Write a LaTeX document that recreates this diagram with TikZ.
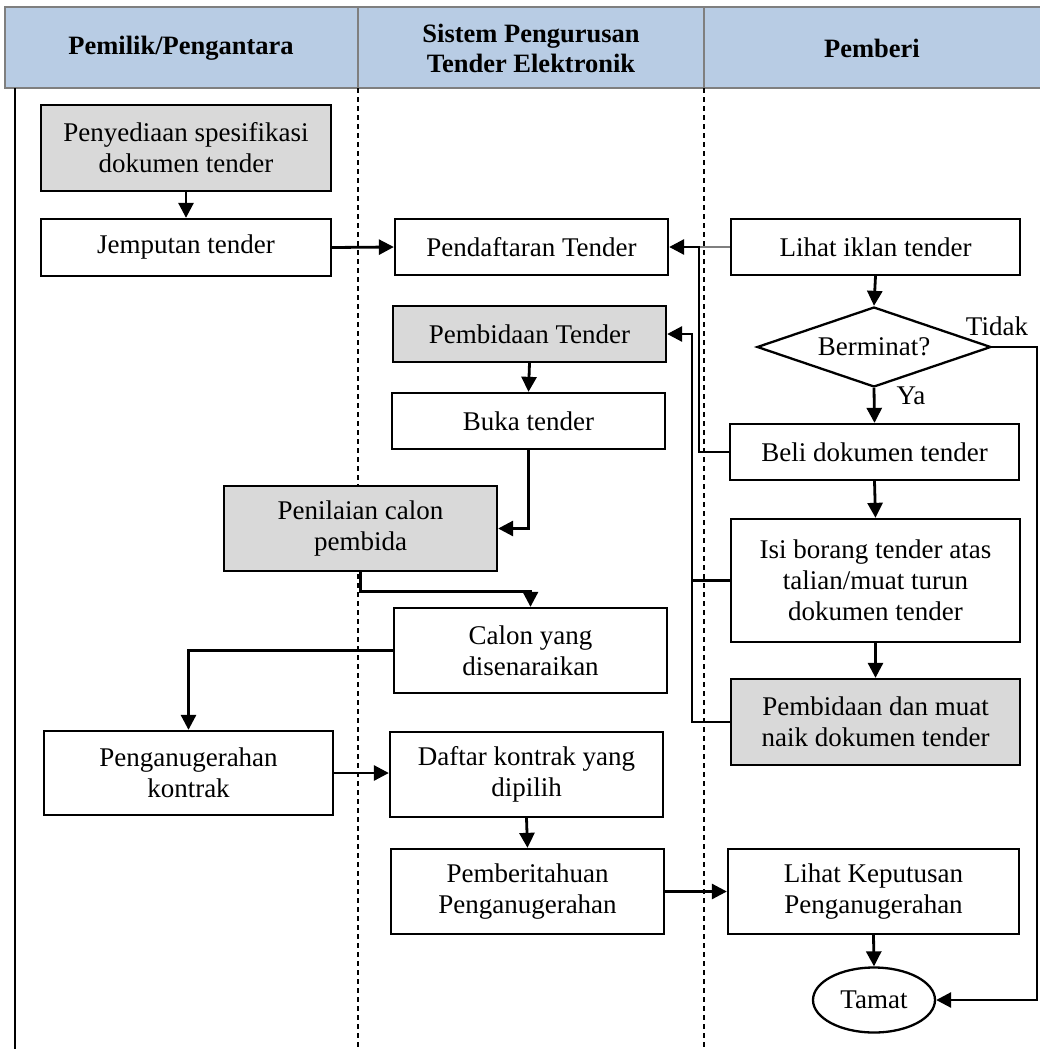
\documentclass[tikz,border=0pt]{standalone}
\usepackage{fontspec}
\setmainfont{Liberation Serif}
\usetikzlibrary{arrows.meta,shapes.geometric}
\definecolor{hdrblue}{HTML}{B8CCE4}
\definecolor{hdrline}{HTML}{7F7F7F}
\definecolor{boxgrey}{HTML}{D9D9D9}
\tikzset{
  every node/.style={font=\fontsize{27}{31}\selectfont},
  procbox/.style={draw=black, line width=2.3pt, fill=white, rectangle, inner sep=0pt, align=center},
  greybox/.style={procbox, fill=boxgrey},
  arr/.style={line width=2.8pt, -{Triangle[length=15pt,width=15pt]}},
  plainln/.style={line width=2.8pt},
  hdrtext/.style={font=\fontsize{26.5}{30}\selectfont\bfseries, align=center},
}
\begin{document}
\begin{tikzpicture}[x=1pt,y=-1pt]
\useasboundingbox (0,0) rectangle (1040,1049);
% header
\fill[hdrblue] (5,7) rectangle (1045,88);
\draw[hdrline, line width=2.8pt] (1045,7) -- (5,7) -- (5,88) -- (1045,88);
\draw[hdrline, line width=2.8pt] (358,7) -- (358,88) (704,7) -- (704,88);
\node[hdrtext] (h1) at (181,48) {Pemilik/Pengantara};
\node[hdrtext] (h2) at (531,48) {Sistem Pengurusan\\Tender Elektronik};
\node[hdrtext] (h3) at (872,48) {Pemberi};
% lanes
\draw[line width=1.8pt] (15,88) -- (15,1049);
\draw[line width=1.1pt, dash pattern=on 5pt off 4pt] (358,88) -- (358,1049);
\draw[line width=1.1pt, dash pattern=on 5pt off 4pt] (704,88) -- (704,1049);
% nodes
\node[greybox, minimum width=290pt, minimum height=86pt] (spec) at (186,148) {Penyediaan spesifikasi\\dokumen tender};
\node[procbox, minimum width=290pt, minimum height=57pt] (jemput) at (186,247.5) {Jemputan tender};
\node[procbox, minimum width=273pt, minimum height=56pt] (daftarT) at (531.5,247) {Pendaftaran Tender};
\node[procbox, minimum width=289pt, minimum height=56pt] (iklan) at (875.5,247) {Lihat iklan tender};
\node[draw=black, line width=2.3pt, fill=white, diamond, shape aspect=2.9, minimum width=234pt, minimum height=80pt, inner sep=0pt] (dia) at (874,347) {Berminat?};
\node[greybox, minimum width=273pt, minimum height=56pt] (bidT) at (529.5,334) {Pembidaan Tender};
\node[procbox, minimum width=273pt, minimum height=56pt] (buka) at (528.5,421) {Buka tender};
\node[procbox, minimum width=289pt, minimum height=56pt] (beli) at (874.5,452) {Beli dokumen tender};
\node[greybox, minimum width=273pt, minimum height=85pt] (nilai) at (360.5,528.5) {Penilaian calon\\pembida};
\node[procbox, minimum width=289pt, minimum height=123pt] (isi) at (875.5,580.5) {Isi borang tender atas\\talian/muat turun\\dokumen tender};
\node[procbox, minimum width=273pt, minimum height=85pt] (calon) at (530.5,650.5) {Calon yang\\disenaraikan};
\node[greybox, minimum width=289pt, minimum height=86pt] (bidM) at (875.5,722) {Pembidaan dan muat\\naik dokumen tender};
\node[procbox, minimum width=289pt, minimum height=84pt] (anuger) at (188.5,773) {Penganugerahan\\kontrak};
\node[procbox, minimum width=273pt, minimum height=85pt] (daftarK) at (526.5,774.5) {Daftar kontrak yang\\dipilih};
\node[procbox, minimum width=273pt, minimum height=85pt] (beritahu) at (527.5,891.5) {Pemberitahuan\\Penganugerahan};
\node[procbox, minimum width=291pt, minimum height=85pt] (keputusan) at (873.5,891.5) {Lihat Keputusan\\Penganugerahan};
\node[draw=black, line width=2.3pt, fill=white, ellipse, minimum width=122pt, minimum height=65pt, inner sep=0pt] (tamat) at (874,1000) {Tamat};
% labels
\node (tidak) at (997,326) {Tidak};
\node (ya) at (911,396) {Ya};
% junction coordinates
\coordinate (jn1) at (699,247);
\coordinate (jn2) at (692,334);
\coordinate (jn4) at (1037,347);
% connectors
\draw[arr] (spec.south) -- (jemput.north);
\draw[arr] (jemput.east) -- (daftarT.west);
\draw[hdrline, line width=2.2pt] (iklan.west) -- (jn1);
\draw[arr] (beli.west) -- (beli.west -| jn1) -- (jn1) -- (daftarT.east);
\draw[arr] (iklan.south) -- (dia.north);
\draw[arr] (dia.south) -- (beli.north);
\draw[arr] (dia.east) -- (jn4) |- (tamat.east);
\draw[arr] (beli.south) -- (isi.north);
\draw[arr] (isi.south) -- (bidM.north);
\draw[plainln] (isi.west) -- (isi.west -| jn2);
\draw[arr] (bidM.west) -- (bidM.west -| jn2) -- (jn2) -- (bidT.east);
\draw[arr] (bidT.south) -- (buka.north);
\draw[arr] (buka.south) |- (nilai.east);
\draw[arr] (nilai.south) -- ([yshift=-19pt]nilai.south) -| (calon.north);
\draw[arr] (calon.west) -| (anuger.north);
\draw[arr] (anuger.east) -- (anuger.east -| daftarK.west);
\draw[arr] (daftarK.south) -- (beritahu.north);
\draw[arr] (beritahu.east) -- (keputusan.west);
\draw[arr] (keputusan.south) -- (tamat.north);
\end{tikzpicture}
\end{document}
